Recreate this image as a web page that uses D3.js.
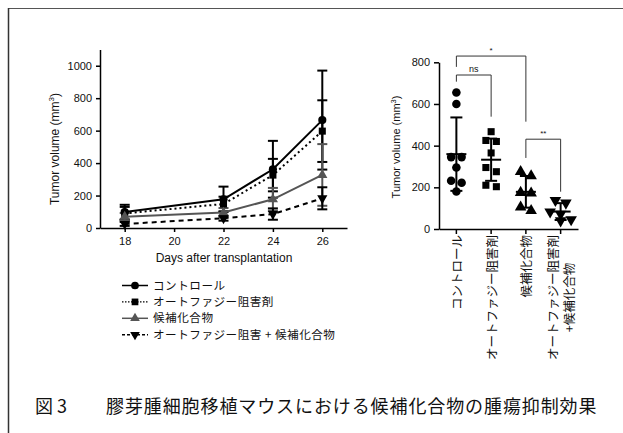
<!DOCTYPE html>
<html><head><meta charset="utf-8">
<script src="https://cdn.jsdelivr.net/npm/d3@7"></script>
<style>
html,body{margin:0;padding:0;background:#fff;}
svg{display:block;}
text{font-family:"Liberation Sans",Arial,"Noto Sans CJK JP",sans-serif;fill:#111;}
.jp{font-family:"Noto Sans CJK JP","Liberation Sans",sans-serif;}
</style></head>
<body>
<svg id="c" width="623" height="433"></svg>
<script>
// ---------- DATA ----------
const days = [18, 22, 24, 26];
const xTickValues = [18, 20, 22, 24, 26];
const yTicksLeft = [0, 200, 400, 600, 800, 1000];
const seriesNames = ["コントロール", "オートファジー阻害剤", "候補化合物", "オートファジー阻害 + 候補化合物"];
const controlMean = [98, 177, 362, 665];
const controlSD = [45, 78, 175, 305];
const autophagyMean = [90, 148, 326, 597];
const autophagySD = [40, 45, 100, 190];
const candidateMean = [70, 95, 177, 327];
const candidateSD = [22, 28, 70, 190];
const comboMean = [25, 60, 86, 183];
const comboSD = [12, 15, 35, 68];

const categories = ["コントロール", "オートファジー阻害剤", "候補化合物", "オートファジー阻害剤\n+候補化合物"];
const yTicksRight = [0, 200, 400, 600, 800];
const controlPts = [655, 600, 345, 345, 295, 232, 222, 180];
const autophagyPts = [467, 425, 420, 365, 295, 275, 210, 203];
const candidatePts = [275, 255, 175, 172, 105, 88];
const comboPts = [138, 125, 82, 72, 45, 40];
// significance brackets (values in mm3)
const sigA = [0, 0, 2];
const sigB = [2, 1, 3];
const sigLabel = ["*", "ns", "**"];
const sigTop = [830, 739, 431];
const sigLegA = [778, 707, 341];
const sigLegB = [515, 539, 179];

const xLabel = "Days after transplantation";
const yLabelMain = "Tumor volume (mm";
const figNo = "図3";
const caption = "膠芽腫細胞移植マウスにおける候補化合物の腫瘍抑制効果";

// ---------- DRAW ----------
const svg = d3.select("#c");

svg.append("line").attr("x1", 8).attr("x2", 623).attr("y1", 8.5).attr("y2", 8.5).attr("stroke", "#555").attr("stroke-width", 1);
svg.append("line").attr("x1", 8.5).attr("x2", 8.5).attr("y1", 8).attr("y2", 433).attr("stroke", "#333").attr("stroke-width", 1.5);

const symCircle = d3.symbol().type(d3.symbolCircle);
const symSquare = d3.symbol().type(d3.symbolSquare);
const symTri = d3.symbol().type(d3.symbolTriangle);

function drawSym(g, type, x, y, color, scale) {
  scale = scale || 1;
  let p;
  if (type === "circle") p = g.append("path").attr("d", symCircle.size(52 * scale)());
  else if (type === "square") p = g.append("path").attr("d", symSquare.size(50 * scale)());
  else p = g.append("path").attr("d", symTri.size(45 * scale)());
  p.attr("fill", color).attr("transform", `translate(${x},${y})` + (type === "down" ? " rotate(180)" : ""));
  return p;
}

function styleAxis(a) {
  a.select(".domain").attr("stroke", "#000").attr("stroke-width", 1.5);
  a.selectAll(".tick line").attr("stroke", "#000").attr("stroke-width", 1.5);
  a.selectAll(".tick text").attr("font-size", 11).style("font-family", "'Liberation Sans', Arial, sans-serif").attr("fill", "#111");
}

// ---- Left chart ----
const xL = d3.scaleLinear().domain([17, 27]).range([100, 347]);
const yL = d3.scaleLinear().domain([0, 1100]).range([228, 49.5]);

const series = [
  {name: seriesNames[0], mean: controlMean, sd: controlSD, color: "#000", dash: null, sym: "circle"},
  {name: seriesNames[1], mean: autophagyMean, sd: autophagySD, color: "#000", dash: "2,3", sym: "square"},
  {name: seriesNames[2], mean: candidateMean, sd: candidateSD, color: "#555", dash: null, sym: "up"},
  {name: seriesNames[3], mean: comboMean, sd: comboSD, color: "#000", dash: "5,4", sym: "down"}
];

const gL = svg.append("g");
const axL = gL.append("g").attr("transform", `translate(${xL(17)},0)`)
  .call(d3.axisLeft(yL).tickValues(yTicksLeft).tickFormat(d3.format("d")).tickSize(4).tickPadding(4).tickSizeOuter(0));
const axB = gL.append("g").attr("transform", `translate(0,${yL(0)})`)
  .call(d3.axisBottom(xL).tickValues(xTickValues).tickFormat(d3.format("d")).tickSize(4).tickPadding(5).tickSizeOuter(0));
styleAxis(axL); styleAxis(axB);

series.forEach(s => {
  const eb = gL.append("g").attr("stroke", s.color).attr("stroke-width", 2);
  days.forEach((d, i) => {
    const m = s.mean[i], sd = s.sd[i];
    eb.append("line").attr("x1", xL(d)).attr("x2", xL(d)).attr("y1", yL(m - sd)).attr("y2", yL(m + sd));
    [m - sd, m + sd].forEach(v => {
      eb.append("line").attr("x1", xL(d) - 5).attr("x2", xL(d) + 5).attr("y1", yL(v)).attr("y2", yL(v));
    });
  });
});
series.forEach(s => {
  const pts = days.map((d, i) => ({d, m: s.mean[i]}));
  gL.append("path").datum(pts)
    .attr("d", d3.line().x(p => xL(p.d)).y(p => yL(p.m)))
    .attr("fill", "none").attr("stroke", s.color).attr("stroke-width", 2)
    .attr("stroke-dasharray", s.dash);
  pts.forEach(p => drawSym(gL, s.sym, xL(p.d), yL(p.m), s.color));
});

gL.append("text").attr("x", 224).attr("y", 262).attr("text-anchor", "middle").attr("font-size", 12).text(xLabel);
const ylabL = gL.append("text").attr("transform", `translate(59,149) rotate(-90)`).attr("text-anchor", "middle").attr("font-size", 12);
ylabL.append("tspan").text(yLabelMain);
ylabL.append("tspan").attr("font-size", 8).attr("dy", -5).text("3");
ylabL.append("tspan").attr("dy", 5).text(")");

// legend
const legY0 = 285.5, legDy = 16.4;
series.forEach((s, i) => {
  const y = legY0 + i * legDy;
  const g = svg.append("g");
  g.append("line").attr("x1", 122).attr("x2", 148).attr("y1", y).attr("y2", y)
    .attr("stroke", s.color).attr("stroke-width", s.dash === "2,3" ? 1.2 : 1.5)
    .attr("stroke-dasharray", s.dash === "2,3" ? "1.5,1.5" : (s.dash ? "3,2" : null));
  drawSym(g, s.sym, 135, y, s.color, 0.9);
  g.append("text").attr("class", "jp").attr("x", 153).attr("y", y).attr("dy", "0.36em")
    .attr("font-size", 11.6).attr("letter-spacing", 0.5).text(s.name);
});

// ---- Right chart ----
const xR = d3.scaleBand().domain(categories).range([439, 578]).padding(0);
const yR = d3.scaleLinear().domain([0, 800]).range([229, 62.3]);
const gR = svg.append("g");
const axRL = gR.append("g").attr("transform", `translate(439,0)`)
  .call(d3.axisLeft(yR).tickValues(yTicksRight).tickFormat(d3.format("d")).tickSize(5).tickPadding(4).tickSizeOuter(0));
const axRB = gR.append("g").attr("transform", `translate(0,${yR(0)})`)
  .call(d3.axisBottom(xR).tickSize(5).tickSizeOuter(0).tickFormat(""));
styleAxis(axRL); styleAxis(axRB);

const ylabR = gR.append("text").attr("transform", `translate(400,147) rotate(-90)`).attr("text-anchor", "middle").attr("font-size", 11);
ylabR.append("tspan").text(yLabelMain);
ylabR.append("tspan").attr("font-size", 7.5).attr("dy", -4.5).text("3");
ylabR.append("tspan").attr("dy", 4.5).text(")");

categories.forEach(c => {
  const cx = xR(c) + xR.bandwidth() / 2;
  const lines = c.split("\n");
  const n = lines.length;
  const lh = 16;
  const t0 = gR.append("text").attr("class", "jp").attr("font-size", 12.5)
    .attr("text-anchor", "end").attr("dominant-baseline", "central")
    .attr("transform", `translate(${cx - (n - 1) * lh / 2},235) rotate(-90)`).text(lines[0]);
  if (n > 1) {
    const len = t0.node().getComputedTextLength();
    for (let k = 1; k < n; k++) {
      gR.append("text").attr("class", "jp").attr("font-size", 12.5)
        .attr("text-anchor", "middle").attr("dominant-baseline", "central")
        .attr("transform", `translate(${cx - (n - 1) * lh / 2 + k * lh},${235 + len / 2}) rotate(-90)`).text(lines[k]);
    }
  }
});

const groups = [
  {pts: controlPts, sym: "circle"},
  {pts: autophagyPts, sym: "square"},
  {pts: candidatePts, sym: "up"},
  {pts: comboPts, sym: "down"}
];
groups.forEach((gp, gi) => {
  const cx = xR(categories[gi]) + xR.bandwidth() / 2;
  const mean = d3.mean(gp.pts), sd = d3.deviation(gp.pts);
  const sorted = gp.pts.slice().sort((a, b) => b - a);
  const rows = [];
  sorted.forEach(v => {
    const last = rows[rows.length - 1];
    if (last && Math.abs(yR(last[0]) - yR(v)) < 8 && last.length < 3) last.push(v);
    else rows.push([v]);
  });
  rows.forEach(r => r.forEach((v, i) => {
    const off = (i - (r.length - 1) / 2) * 10.5;
    drawSym(gR, gp.sym, cx + off, yR(v), "#000", gp.sym === "circle" ? 1.1 : (gp.sym === "square" ? 1.0 : 1.3));
  }));
  const eb = gR.append("g").attr("stroke", "#000").attr("stroke-width", 2);
  eb.append("line").attr("x1", cx).attr("x2", cx).attr("y1", yR(mean - sd)).attr("y2", yR(mean + sd));
  [mean - sd, mean + sd].forEach(v => eb.append("line").attr("x1", cx - 6).attr("x2", cx + 6).attr("y1", yR(v)).attr("y2", yR(v)));
  eb.append("line").attr("x1", cx - 10).attr("x2", cx + 10).attr("y1", yR(mean)).attr("y2", yR(mean));
});

sigLabel.forEach((lab, i) => {
  const xa = xR(categories[sigA[i]]) + xR.bandwidth() / 2;
  const xb = xR(categories[sigB[i]]) + xR.bandwidth() / 2;
  const yt = yR(sigTop[i]);
  gR.append("path").attr("d", `M${xa},${yR(sigLegA[i])}V${yt}H${xb}V${yR(sigLegB[i])}`)
    .attr("fill", "none").attr("stroke", "#333").attr("stroke-width", 1);
  gR.append("text").attr("x", (xa + xb) / 2).attr("y", yt - 3).attr("text-anchor", "middle")
    .attr("font-size", lab === "ns" ? 9 : 8).text(lab);
});

svg.append("text").attr("class", "jp").attr("x", 35).attr("y", 407).attr("dy", "0.35em")
  .attr("font-size", 18).attr("letter-spacing", 4).text(figNo);
svg.append("text").attr("class", "jp").attr("x", 106).attr("y", 407).attr("dy", "0.35em")
  .attr("font-size", 18).attr("letter-spacing", 0.9).text(caption);
</script>
</body></html>
